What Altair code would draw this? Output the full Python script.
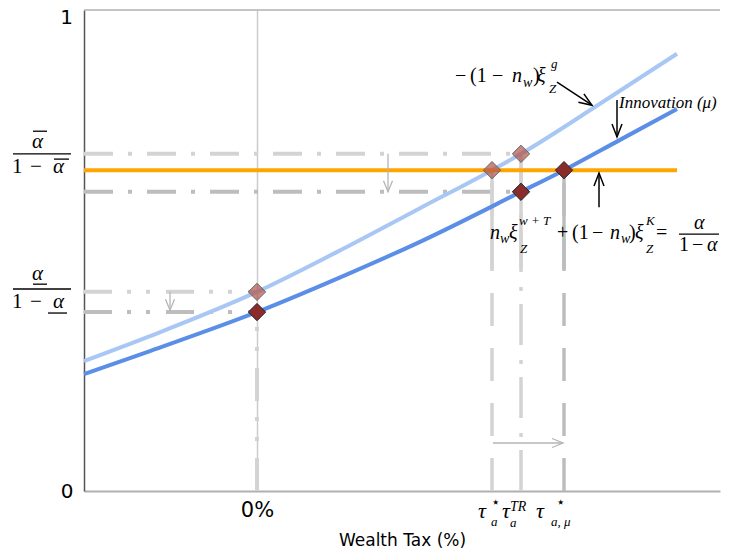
import math
import altair as alt
import pandas as pd

# ---------------- data ----------------
X_DOMAIN = [-1.73, 4.63]          # wealth-tax axis (0% at 0)
Y_DOMAIN = [0.0, 1.0]
PLOT_W, PLOT_H = 636, 481
SX = PLOT_W / (X_DOMAIN[1] - X_DOMAIN[0])
SY = PLOT_H / (Y_DOMAIN[1] - Y_DOMAIN[0])

# light-blue curve  -(1-n_w) xi_Z^g
tax_light = [-1.73, -1.07, 0.00, 0.93, 1.63, 2.35, 2.64, 3.43, 4.20]
xi_light = [0.270, 0.322, 0.414, 0.511, 0.588, 0.667, 0.701, 0.805, 0.909]
# dark-blue curve (with innovation mu)
tax_dark = [-1.73, -1.07, 0.00, 0.93, 1.63, 2.64, 3.07, 3.63, 4.20]
xi_dark = [0.243, 0.291, 0.372, 0.453, 0.518, 0.622, 0.667, 0.730, 0.794]

# orange target level alpha/(1-alpha)
target_level = 0.667
target_span = [-1.73, 4.20]

# key tax rates
tau_zero, tau_a, tau_tr, tau_mu = 0.00, 2.35, 2.64, 3.07
# reference levels
level_bar_hi, level_bar_lo = 0.701, 0.622
level_ul_hi, level_ul_lo = 0.414, 0.372
dash_top = 0.4615

# markers
light_mk_x = [tau_zero, tau_a, tau_tr]
light_mk_y = [level_ul_hi, target_level, level_bar_hi]
dark_mk_x = [tau_zero, tau_tr, tau_mu]
dark_mk_y = [level_ul_lo, level_bar_lo, target_level]

# ---------------- helpers ----------------
xs = alt.Scale(domain=X_DOMAIN, nice=False, zero=False)
ys = alt.Scale(domain=Y_DOMAIN, nice=False, zero=False)

X_ENC = alt.X(
    "x:Q", scale=xs,
    axis=alt.Axis(values=[0], labelExpr="'0%'", ticks=False, grid=True,
                  gridColor="#cccccc", gridWidth=1.5, domainColor="#b0b0b0",
                  domainWidth=2, labelFont="DejaVu Sans", labelFontSize=21,
                  labelColor="black", labelPadding=8, title="Wealth Tax (%)",
                  titleFont="DejaVu Sans", titleFontSize=17,
                  titleFontWeight="normal", titleColor="black", titlePadding=12),
)
Y_ENC = alt.Y(
    "y:Q", scale=ys,
    axis=alt.Axis(values=[0], labelExpr="'0'",
                  ticks=False, grid=False, domainColor="#555555", domainWidth=1.5,
                  labelFont="DejaVu Sans", labelFontSize=20, labelColor="black",
                  labelPadding=11, labelFlush=False, title=None),
)


def line_layer(xv, yv, color, width, dash=None):
    df = pd.DataFrame({"x": xv, "y": yv, "o": list(range(len(xv)))})
    kw = dict(color=color, strokeWidth=width, strokeCap="butt")
    if dash:
        kw["strokeDash"] = dash
    return alt.Chart(df).mark_line(**kw).encode(x=X_ENC, y=Y_ENC, order="o:Q")


def arrow_df(specs, L, Wd):
    rows = []
    for i, (x1, y1, x2, y2) in enumerate(specs):
        dx, dy = (x2 - x1) * SX, (y2 - y1) * SY
        n = math.hypot(dx, dy)
        ux, uy = dx / n, dy / n
        bx, by = x2 * SX - ux * L, y2 * SY - uy * L
        px, py = -uy, ux
        rows += [dict(x=x1, y=y1, g=f"s{i}", o=0), dict(x=x2, y=y2, g=f"s{i}", o=1)]
        rows += [dict(x=(bx + px * Wd) / SX, y=(by + py * Wd) / SY, g=f"h{i}", o=0),
                 dict(x=x2, y=y2, g=f"h{i}", o=1),
                 dict(x=(bx - px * Wd) / SX, y=(by - py * Wd) / SY, g=f"h{i}", o=2)]
    return pd.DataFrame(rows)


def arrow_layer(specs, color, width, L, Wd):
    return alt.Chart(arrow_df(specs, L, Wd)).mark_line(
        color=color, strokeWidth=width).encode(
        x=X_ENC, y=Y_ENC, detail="g:N", order="o:Q")


# ---------------- layers ----------------
LIGHT_GRAY, MID_GRAY = "#d3d3d3", "#bdbdbd"
layers = []

# top frame line
layers.append(alt.Chart(pd.DataFrame({"y": [1.0]})).mark_rule(
    color="#b0b0b0", strokeWidth=1.5).encode(y=Y_ENC))

# horizontal reference lines
DD = [29, 15, 4, 15]
DDD = [28, 15, 4, 15, 4, 16]
layers.append(line_layer([X_DOMAIN[0], tau_tr], [level_bar_hi] * 2, LIGHT_GRAY, 4, DD))
layers.append(line_layer([X_DOMAIN[0], tau_tr], [level_bar_lo] * 2, MID_GRAY, 4, DD))
layers.append(line_layer([X_DOMAIN[0], tau_zero], [level_ul_hi] * 2, LIGHT_GRAY, 4, DDD))
layers.append(line_layer([X_DOMAIN[0], tau_zero], [level_ul_lo] * 2, MID_GRAY, 4, DDD))

# vertical reference lines
layers.append(line_layer([tau_zero] * 2, [0, level_ul_lo], LIGHT_GRAY, 4, [33, 17, 4, 16, 4, 16]))
layers.append(line_layer([tau_a] * 2, [0, target_level], LIGHT_GRAY, 3.5, [33, 22]))
layers.append(line_layer([tau_a] * 2, [target_level, dash_top], LIGHT_GRAY, 3.5))
layers.append(line_layer([tau_tr] * 2, [0, level_bar_hi], LIGHT_GRAY, 3.5, [41, 13, 4, 15]))
layers.append(line_layer([tau_tr] * 2, [level_bar_hi, dash_top], LIGHT_GRAY, 3.5))
layers.append(line_layer([tau_mu] * 2, [0, target_level], MID_GRAY, 3.5, [33, 22]))
layers.append(line_layer([tau_mu] * 2, [target_level, dash_top], MID_GRAY, 3.5))

# curves
layers.append(alt.Chart(pd.DataFrame({"x": tax_light, "y": xi_light})).mark_line(
    color="#a9c7f4", strokeWidth=4, interpolate="monotone").encode(x=X_ENC, y=Y_ENC))
layers.append(alt.Chart(pd.DataFrame({"x": tax_dark, "y": xi_dark})).mark_line(
    color="#5b8ee6", strokeWidth=4, interpolate="monotone").encode(x=X_ENC, y=Y_ENC))

# orange target
layers.append(line_layer(target_span, [target_level] * 2, "#ffa500", 4))

# arrows
gray_arrows = [(1.31, level_bar_hi, 1.31, level_bar_lo),
               (-0.87, level_ul_hi, -0.87, 0.376),
               (tau_a + 0.01, 0.0998, tau_mu - 0.01, 0.0998)]
black_arrows = [(3.00, 0.850, 3.35, 0.802),
                (3.60, 0.813, 3.60, 0.736),
                (3.42, 0.590, 3.42, 0.661)]
layers.append(arrow_layer(gray_arrows, "#b5b5b5", 1.3, 11, 4.5))
layers.append(arrow_layer(black_arrows, "black", 1.5, 13, 5))

# markers
layers.append(alt.Chart(pd.DataFrame({"x": light_mk_x, "y": light_mk_y})).mark_point(
    shape="diamond", size=300, filled=True, fill="#b0524a", fillOpacity=0.7,
    stroke="#666666", strokeWidth=1, opacity=1).encode(x=X_ENC, y=Y_ENC))
layers.append(alt.Chart(pd.DataFrame({"x": dark_mk_x, "y": dark_mk_y})).mark_point(
    shape="diamond", size=300, filled=True, fill="#8b2c2c", fillOpacity=1,
    stroke="#222222", strokeWidth=1, opacity=1).encode(x=X_ENC, y=Y_ENC))

# top y label "1" (kept a little lower so it is not cut at the page edge)
layers.append(alt.Chart(pd.DataFrame({"x": [X_DOMAIN[0]], "y": [1.0], "t": ["1"]})).mark_text(
    align="right", baseline="alphabetic", dx=-11, dy=14, font="DejaVu Sans",
    fontSize=20, color="black").encode(x=X_ENC, y=Y_ENC, text="t:N"))

# ---------------- math text pieces ----------------
# (x, y, text, size, italic)
pieces = [
    # -(1-n_w) xi_Z^g
    (1.98, 0.850, "\u2212", 20, False), (2.13, 0.850, "(1", 20, False),
    (2.35, 0.850, "\u2212", 20, False), (2.55, 0.850, "n", 20, True),
    (2.66, 0.840, "w", 14, True), (2.76, 0.850, ")", 20, False),
    (2.80, 0.850, "\u03be", 20, True), (2.94, 0.880, "g", 13, True),
    (2.92, 0.827, "Z", 13, True),
    # Innovation (mu)
    (3.62, 0.796, "Innovation (\u03bc)", 17, True),
    # n_w xi_Z^{w+T} + (1-n_w) xi_Z^K = alpha/(1-alpha)
    (2.33, 0.524, "n", 20, True), (2.43, 0.516, "w", 14, True),
    (2.52, 0.524, "\u03be", 20, True), (2.62, 0.553, "w + T", 13, True),
    (2.63, 0.495, "Z", 13, True), (3.00, 0.524, "+", 20, False),
    (3.15, 0.524, "(1", 20, False), (3.35, 0.524, "\u2212", 20, False),
    (3.53, 0.524, "n", 20, True), (3.64, 0.516, "w", 14, True),
    (3.72, 0.524, ")", 20, False), (3.78, 0.524, "\u03be", 20, True),
    (3.89, 0.553, "K", 13, True), (3.89, 0.495, "Z", 13, True),
    (3.99, 0.524, "=", 20, False),
    (4.37, 0.545, "\u03b1", 20, True),
    (4.22, 0.499, "1", 20, False), (4.35, 0.499, "\u2212", 20, False),
    (4.50, 0.499, "\u03b1", 20, True),
    # y-axis fraction (upper)
    (-2.25, 0.713, "\u03b1", 21, True),
    (-2.45, 0.661, "1", 21, False), (-2.27, 0.661, "\u2212", 21, False),
    (-2.04, 0.661, "\u03b1", 21, True),
    # y-axis fraction (lower)
    (-2.25, 0.439, "\u03b1", 21, True),
    (-2.45, 0.380, "1", 21, False), (-2.27, 0.380, "\u2212", 21, False),
    (-2.04, 0.380, "\u03b1", 21, True),
    # tau labels under the x axis
    (2.21, -0.056, "\u03c4", 22, True), (2.34, -0.033, "\u22c6", 15, False),
    (2.34, -0.072, "a", 13, True),
    (2.45, -0.056, "\u03c4", 22, True), (2.53, -0.042, "TR", 14, True),
    (2.53, -0.074, "a", 13, True),
    (2.79, -0.056, "\u03c4", 22, True), (2.99, -0.033, "\u22c6", 15, False),
    (2.94, -0.072, "a, \u03bc", 13, True),
]
tdf = pd.DataFrame(pieces, columns=["x", "y", "t", "s", "it"])
for italic in (True, False):
    sub = tdf[tdf["it"] == italic]
    layers.append(alt.Chart(sub).mark_text(
        align="left", baseline="alphabetic", font="Liberation Serif",
        fontStyle="italic" if italic else "normal", color="black").encode(
        x=X_ENC, y=Y_ENC, text="t:N", size=alt.Size("s:Q", scale=None)))

# fraction bars, over- and underlines
segs = pd.DataFrame({
    "x": [4.22, -2.44, -2.24, -2.03, -2.44, -2.24, -2.09],
    "x2": [4.62, -1.86, -2.10, -1.88, -1.86, -2.10, -1.90],
    "y": [0.534, 0.701, 0.748, 0.690, 0.420, 0.430, 0.370],
})
layers.append(alt.Chart(segs).mark_rule(color="black", strokeWidth=1.3).encode(
    x=X_ENC, x2="x2:Q", y=Y_ENC))

chart = alt.layer(*layers).properties(
    width=PLOT_W, height=PLOT_H,
    padding={"left": 76, "top": 2, "right": 1, "bottom": 60},
    autosize=alt.AutoSizeParams(type="none"),
).configure_view(stroke=None)

chart.save("out.html", embed_options={"renderer": "svg", "actions": False})
